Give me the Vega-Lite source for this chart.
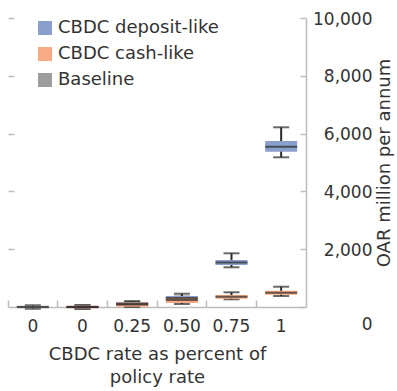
{
  "$schema": "https://vega.github.io/schema/vega-lite/v6.json",
  "width": 298,
  "height": 289,
  "autosize": "none",
  "padding": {"left": 8, "top": 18, "right": 91, "bottom": 84},
  "config": {
    "font": "DejaVu Sans",
    "view": {"stroke": null},
    "axis": {"grid": false, "domainColor": "#bdbdbd", "tickColor": "#bdbdbd", "labelColor": "#333333", "titleColor": "#333333", "titleFontWeight": "normal", "tickWidth": 1.5, "domainWidth": 1.5}
  },
  "data": {
    "values": [
      {"rate": "0", "series": "CBDC deposit-like", "lo": -60, "q1": -40, "med": 0, "q3": 40, "hi": 60},
      {"rate": "0.25", "series": "CBDC deposit-like", "lo": 40, "q1": 60, "med": 110, "q3": 175, "hi": 200},
      {"rate": "0.50", "series": "CBDC deposit-like", "lo": 173, "q1": 242, "med": 311, "q3": 380, "hi": 460},
      {"rate": "0.75", "series": "CBDC deposit-like", "lo": 1374, "q1": 1453, "med": 1540, "q3": 1626, "hi": 1858},
      {"rate": "1", "series": "CBDC deposit-like", "lo": 5180, "q1": 5374, "med": 5547, "q3": 5744, "hi": 6218},
      {"rate": "0", "series": "CBDC cash-like", "lo": -60, "q1": -40, "med": 0, "q3": 40, "hi": 60},
      {"rate": "0.25", "series": "CBDC cash-like", "lo": 0, "q1": 10, "med": 90, "q3": 160, "hi": 185},
      {"rate": "0.50", "series": "CBDC cash-like", "lo": 104, "q1": 138, "med": 242, "q3": 329, "hi": 360},
      {"rate": "0.75", "series": "CBDC cash-like", "lo": 266, "q1": 287, "med": 356, "q3": 415, "hi": 509},
      {"rate": "1", "series": "CBDC cash-like", "lo": 380, "q1": 426, "med": 495, "q3": 564, "hi": 702},
      {"rate": "0b", "series": "Baseline", "lo": -60, "q1": -40, "med": 0, "q3": 40, "hi": 60}
    ]
  },
  "encoding": {
    "x": {
      "field": "rate", "type": "nominal",
      "sort": ["0b", "0", "0.25", "0.50", "0.75", "1"],
      "scale": {"paddingInner": 0, "paddingOuter": 0},
      "axis": {
        "labelExpr": "datum.value == '0b' ? '0' : datum.value",
        "labelAngle": 0, "bandPosition": 0, "tickSize": -7, "labelPadding": 18,
        "labelFontSize": 17, "title": ["CBDC rate as percent of", "policy rate"],
        "titleFontSize": 18, "titleLineHeight": 23, "titlePadding": 11
      }
    }
  },
  "layer": [
    {
      "mark": {"type": "rule", "color": "#2b2b2b", "strokeWidth": 2},
      "encoding": {
        "y": {
          "field": "lo", "type": "quantitative",
          "scale": {"domain": [0, 10000], "nice": false, "zero": false},
          "axis": {
            "orient": "right", "values": [0, 2000, 4000, 6000, 8000, 10000], "format": ",.0f",
            "tickSize": -6, "labelPadding": 72, "labelAlign": "right", "labelFontSize": 17,
            "labelOffset": {"condition": {"test": "datum.value == 0", "value": 17}, "value": 1},
            "title": "OAR million per annum", "titleFontSize": 18, "titleAngle": 270,
            "titleBaseline": "top", "titlePadding": 3
          }
        },
        "y2": {"field": "hi"}
      }
    },
    {
      "mark": {"type": "tick", "color": "#2b2b2b", "size": 16, "thickness": 2},
      "encoding": {"y": {"field": "lo", "type": "quantitative", "axis": null}}
    },
    {
      "mark": {"type": "tick", "color": "#2b2b2b", "size": 16, "thickness": 2},
      "encoding": {"y": {"field": "hi", "type": "quantitative", "axis": null}}
    },
    {
      "mark": {"type": "bar", "size": 32},
      "encoding": {
        "y": {
          "field": "q1", "type": "quantitative",
          "axis": {"orient": "left", "labels": false, "domain": false, "ticks": true, "tickSize": -6, "values": [2000, 4000, 6000, 8000, 10000], "title": null}
        },
        "y2": {"field": "q3"},
        "color": {
          "field": "series", "type": "nominal",
          "scale": {"domain": ["CBDC deposit-like", "CBDC cash-like", "Baseline"], "range": ["#8a9fcb", "#f8aa84", "#9c9c9c"]},
          "legend": {
            "orient": "none", "legendX": 28, "legendY": 1, "title": null,
            "symbolType": "square", "symbolSize": 196, "symbolStrokeWidth": 0, "symbolOpacity": 1,
            "labelFontSize": 18, "labelColor": "#333333", "labelOffset": 4, "rowPadding": 8, "labelLimit": 300
          }
        }
      }
    },
    {
      "mark": {"type": "tick", "color": "#2b2b2b", "size": 32, "thickness": 2},
      "encoding": {"y": {"field": "med", "type": "quantitative", "axis": null}}
    }
  ],
  "resolve": {"axis": {"y": "independent"}}
}
